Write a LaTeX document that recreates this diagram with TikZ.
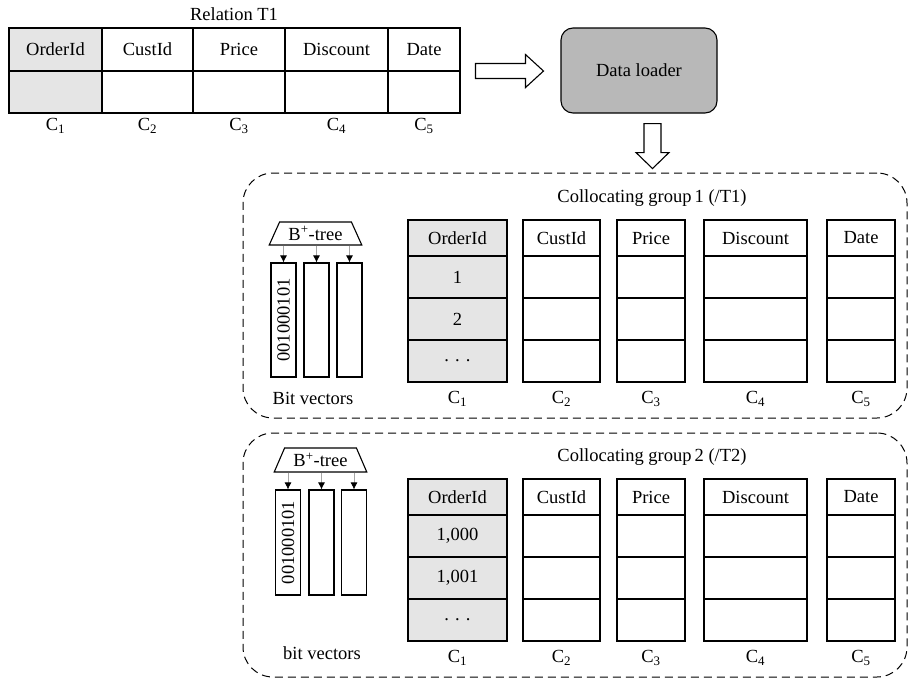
\documentclass[tikz,border=0pt]{standalone}
\usepackage{fontspec}
\setmainfont{Liberation Serif}
\usetikzlibrary{shapes.geometric,arrows.meta,calc}
\definecolor{lightg}{gray}{0.9}
\definecolor{loaderg}{gray}{0.72}
\begin{document}
\begin{tikzpicture}[x=1pt,y=-1pt,
  font=\fontsize{18.5}{22}\selectfont,
  cell/.style={draw, line width=1.1pt, inner sep=0pt, anchor=center},
  hollow/.style={draw, line width=1.1pt, fill=white, line join=miter},
  groupbox/.style={draw, dash pattern=on 8pt off 5pt, line width=1pt, rounded corners=30pt, inner sep=0pt},
  bv/.style={draw, line width=1.1pt, inner sep=0pt, minimum width=25pt},
  btree/.style={trapezium, draw, line width=1.1pt, trapezium left angle=60.5, trapezium right angle=60.5,
                trapezium stretches=true, minimum width=93pt, inner sep=0pt, fill=white},
  ptr/.style={draw=gray!70, line width=0.8pt, -{Latex[length=7pt,width=7pt,color=black]}}
]
\useasboundingbox (0,0) rectangle (910,680);

% ---------- Relation T1 ----------
\node (rel) at (234,14) {Relation T1};
\foreach \c/\l/\r/\hd/\f in {1/9/102/OrderId/lightg,2/102/193/CustId/white,3/193/285/Price/white,4/285/388/Discount/white,5/388/460/Date/white}{
  \pgfmathsetmacro\w{\r-\l}\pgfmathsetmacro\cx{(\r+\l)/2}
  \node[cell, fill=\f, minimum width=\w pt, minimum height=43pt] (th\c) at (\cx,49.5) {\hd};
  \node[cell, fill=\f, minimum width=\w pt, minimum height=42pt] (tr\c) at (\cx,92) {};
  \node (tc\c) at (\cx,126) {C\textsubscript{\c}};
}

% ---------- Data loader ----------
\node[draw, line width=1.1pt, fill=loaderg, rounded corners=12pt, minimum width=156pt, minimum height=85pt] (loader) at (639,70.5) {Data loader};

% right hollow arrow
\coordinate (ra) at ($(th5.south east)!0.5!(loader.west)$);
\begin{scope}[shift={(ra)}]
\draw[hollow] (-35,-7.5) -- (15,-7.5) -- (15,-16.5) -- (33,0) -- (15,16.5) -- (15,7.5) -- (-35,7.5) -- cycle;
\end{scope}

% down hollow arrow
\coordinate (da) at ($(loader.south)+(13.5,0)$);
\begin{scope}[shift={(da)}]
\draw[hollow] (-8.5,10) -- (8.5,10) -- (8.5,39) -- (16.5,39) -- (0,55) -- (-16.5,39) -- (-8.5,39) -- cycle;
\end{scope}

% ---------- Collocating groups ----------
\node[groupbox, minimum width=664pt, minimum height=245pt] (grp1) at (575,295.5) {};
\node[groupbox, minimum width=664pt, minimum height=244pt] (grp2) at (575,555) {};
\node (gl1) at (652,198) {Collocating group\,1 (/T1)};
\node (gl2) at (652,457) {Collocating group\,2 (/T2)};

\foreach \g/\t in {1/220,2/479}{
  \foreach \c/\l/\r/\hd/\f in {1/408/507/OrderId/lightg,2/523/600/CustId/white,3/617/685/Price/white,4/704/807/Discount/white,5/827/895/Date/white}{
    \pgfmathsetmacro\w{\r-\l}\pgfmathsetmacro\cx{(\r+\l)/2}
    \node[cell, fill=\f, minimum width=\w pt, minimum height=36pt] (g\g h\c) at (\cx,\t+18) {\hd};
    \foreach \k in {1,2,3}{
      \node[cell, fill=\f, minimum width=\w pt, minimum height=42pt] (g\g r\c\k) at (\cx,\t+15+42*\k) {};
    }
    \node (g\g c\c) at (\cx,\t+179) {C\textsubscript{\c}};
  }
}
\node (v11) at (g1r11) {1};
\node (v12) at (g1r12) {2};
\node (v13) at (g1r13) {.\,\,.\,\,.};
\node (v21) at (g2r11) {1,000};
\node (v22) at (g2r12) {1,001};
\node (v23) at (g2r13) {.\,\,.\,\,.};

% ---------- Bit vectors group 1 ----------
\node[btree, minimum height=23pt] (bt1) at (315.5,233.5) {B\textsuperscript{+}-tree};
\node[bv, minimum height=114pt] (b1a) at (283.5,320) {};
\node[bv, minimum height=114pt] (b1b) at (316.5,320) {};
\node[bv, minimum height=114pt] (b1c) at (349.5,320) {};
\node[rotate=90] (bits1) at (b1a) {001000101};
\foreach \n in {b1a,b1b,b1c}{ \draw[ptr] (\n.north |- bt1.south) -- (\n.north); }
\node (bvl1) at (313,398) {Bit vectors};

% ---------- Bit vectors group 2 ----------
\node[btree, minimum height=24pt] (bt2) at (320.5,460) {B\textsuperscript{+}-tree};
\node[bv, minimum height=105pt] (b2a) at (288,542.5) {};
\node[bv, minimum height=105pt] (b2b) at (321.5,542.5) {};
\node[bv, minimum height=105pt] (b2c) at (354,542.5) {};
\node[rotate=90] (bits2) at (b2a) {001000101};
\foreach \n in {b2a,b2b,b2c}{ \draw[ptr] (\n.north |- bt2.south) -- (\n.north); }
\node (bvl2) at (322,653) {bit vectors};
\end{tikzpicture}
\end{document}
